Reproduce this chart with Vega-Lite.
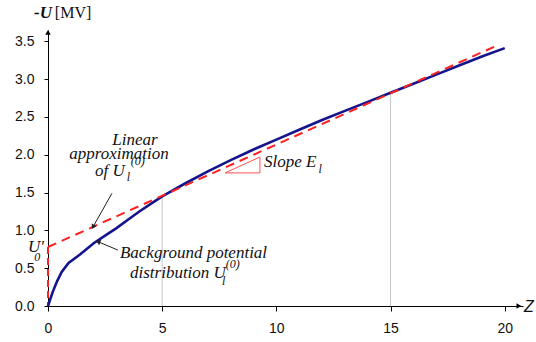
{
  "$schema": "https://vega.github.io/schema/vega-lite/v6.json",
  "width": 475,
  "height": 276,
  "autosize": {"type": "none"},
  "padding": {"left": 48, "top": 30, "right": 13, "bottom": 36},
  "background": "white",
  "config": {"view": {"stroke": null}},
  "datasets": {
    "curve": [
      {"z": 0, "u": 0}, {"z": 0.2, "u": 0.18}, {"z": 0.4, "u": 0.33}, {"z": 0.6, "u": 0.45},
      {"z": 0.9, "u": 0.57}, {"z": 1.4, "u": 0.68}, {"z": 2, "u": 0.83}, {"z": 2.5, "u": 0.93},
      {"z": 3, "u": 1.03}, {"z": 3.5, "u": 1.14}, {"z": 4, "u": 1.25}, {"z": 4.5, "u": 1.35},
      {"z": 5, "u": 1.45}, {"z": 6, "u": 1.62}, {"z": 7, "u": 1.78}, {"z": 8, "u": 1.93},
      {"z": 9, "u": 2.07}, {"z": 10, "u": 2.2}, {"z": 11, "u": 2.33}, {"z": 12, "u": 2.46},
      {"z": 13, "u": 2.58}, {"z": 14, "u": 2.7}, {"z": 15, "u": 2.82}, {"z": 16, "u": 2.94},
      {"z": 17, "u": 3.06}, {"z": 18, "u": 3.18}, {"z": 19, "u": 3.3}, {"z": 20, "u": 3.41}
    ],
    "approx": [{"z": 0, "u": 0.78}, {"z": 19.7, "u": 3.45}],
    "vlines": [{"z": 5, "u": 1.45}, {"z": 15, "u": 2.82}],
    "u0line": [{"z": 0, "u": 0.78}],
    "tri": [
      {"z": 7.75, "u": 1.76, "o": 1}, {"z": 9.28, "u": 1.97, "o": 2},
      {"z": 9.28, "u": 1.76, "o": 3}, {"z": 7.75, "u": 1.76, "o": 4}
    ],
    "arrows": [
      {"zs": 2.8, "us": 1.49, "z": 1.97, "u": 1.045, "ang": 209},
      {"zs": 3.06, "us": 0.74, "z": 2.19, "u": 0.85, "ang": 292}
    ],
    "axisarrows": [
      {"z": 0, "u": 3.62, "ang": 0},
      {"z": 20.62, "u": 0, "ang": 90}
    ],
    "italicCenter": [
      {"z": 3.81, "u": 2.13, "t": "Linear"},
      {"z": 3.11, "u": 1.945, "t": "approximation"}
    ],
    "italicLeft": [
      {"z": 2.06, "u": 1.72, "t": "of U"},
      {"z": 9.46, "u": 1.84, "t": "Slope E"},
      {"z": 3.15, "u": 0.635, "t": "Background potential"},
      {"z": 3.59, "u": 0.37, "t": "distribution U"},
      {"z": -0.88, "u": 0.71, "t": "U′"}
    ],
    "small": [
      {"z": 3.45, "u": 1.65, "t": "l"},
      {"z": 3.62, "u": 1.86, "t": "(0)"},
      {"z": 11.85, "u": 1.76, "t": "l"},
      {"z": 7.62, "u": 0.28, "t": "l"},
      {"z": 7.78, "u": 0.5, "t": "(0)"},
      {"z": -0.6, "u": 0.6, "t": "0"}
    ]
  },
  "encoding": {
    "x": {"field": "z", "type": "quantitative", "scale": {"domain": [0, 20.8], "nice": false, "zero": false},
      "axis": {"values": [0, 5, 10, 15, 20], "title": null, "grid": false, "domainColor": "black", "tickColor": "black",
        "tickSize": 5, "labelPadding": 10, "labelFont": "Liberation Sans", "labelFontSize": 14, "labelColor": "#111", "labelFlush": false, "labelOverlap": false}},
    "y": {"field": "u", "type": "quantitative", "scale": {"domain": [0, 3.65], "nice": false, "zero": false},
      "axis": {"values": [0, 0.5, 1, 1.5, 2, 2.5, 3, 3.5], "format": ".1f", "title": null, "grid": false, "domainColor": "black",
        "tickColor": "black", "tickSize": 4, "labelPadding": 10, "labelFont": "Liberation Sans", "labelFontSize": 14, "labelColor": "#111", "labelOverlap": false}}
  },
  "layer": [
    {
      "data": {"name": "vlines"},
      "mark": {"type": "rule", "color": "#c8c8c8", "strokeWidth": 1},
      "encoding": {"y2": {"datum": 0}}
    },
    {
      "data": {"name": "u0line"},
      "mark": {"type": "rule", "color": "#ff2020", "strokeWidth": 2, "strokeDash": [7, 4]},
      "encoding": {"y2": {"datum": 0}}
    },
    {
      "data": {"name": "curve"},
      "mark": {"type": "line", "color": "#14148c", "strokeWidth": 2.6},
      "encoding": {}
    },
    {
      "data": {"name": "approx"},
      "mark": {"type": "line", "color": "#ff2020", "strokeWidth": 2, "strokeDash": [9, 6]},
      "encoding": {}
    },
    {
      "data": {"name": "tri"},
      "mark": {"type": "line", "color": "#ff5050", "strokeWidth": 1},
      "encoding": {"order": {"field": "o"}}
    },
    {
      "data": {"name": "arrows"},
      "mark": {"type": "rule", "color": "#222", "strokeWidth": 1},
      "encoding": {
        "x2": {"field": "zs"},
        "y2": {"field": "us"}
      }
    },
    {
      "data": {"name": "arrows"},
      "mark": {"type": "point", "shape": "triangle-up", "filled": true, "color": "#222", "size": 30, "opacity": 1},
      "encoding": {
        "angle": {"field": "ang", "type": "quantitative", "scale": null}
      }
    },
    {
      "data": {"name": "axisarrows"},
      "mark": {"type": "point", "shape": "triangle-up", "filled": true, "color": "black", "size": 30, "opacity": 1},
      "encoding": {
        "angle": {"field": "ang", "type": "quantitative", "scale": null}
      }
    },
    {
      "data": {"name": "italicCenter"},
      "mark": {"type": "text", "font": "Liberation Serif", "fontStyle": "italic", "fontSize": 17, "color": "#111", "baseline": "alphabetic", "align": "center"},
      "encoding": {"text": {"field": "t"}}
    },
    {
      "data": {"name": "italicLeft"},
      "mark": {"type": "text", "font": "Liberation Serif", "fontStyle": "italic", "fontSize": 17, "color": "#111", "baseline": "alphabetic", "align": "left"},
      "encoding": {"text": {"field": "t"}}
    },
    {
      "data": {"name": "small"},
      "mark": {"type": "text", "font": "Liberation Serif", "fontStyle": "italic", "fontSize": 12, "color": "#111", "baseline": "alphabetic", "align": "left"},
      "encoding": {"text": {"field": "t"}}
    },
    {
      "data": {"values": [{"z": -0.61, "u": 3.81, "t": "-U"}]},
      "mark": {"type": "text", "font": "Liberation Serif", "fontStyle": "italic", "fontWeight": "bold", "fontSize": 17, "color": "#111", "baseline": "alphabetic", "align": "left"},
      "encoding": {"text": {"field": "t"}}
    },
    {
      "data": {"values": [{"z": 0.3, "u": 3.81, "t": "[MV]"}]},
      "mark": {"type": "text", "font": "Liberation Serif", "fontSize": 16, "color": "#111", "baseline": "alphabetic", "align": "left"},
      "encoding": {"text": {"field": "t"}}
    },
    {
      "data": {"values": [{"z": 20.84, "u": -0.08, "t": "Z"}]},
      "mark": {"type": "text", "font": "Liberation Sans", "fontStyle": "italic", "fontSize": 16, "color": "#111", "baseline": "alphabetic", "align": "left"},
      "encoding": {"text": {"field": "t"}}
    }
  ]
}
